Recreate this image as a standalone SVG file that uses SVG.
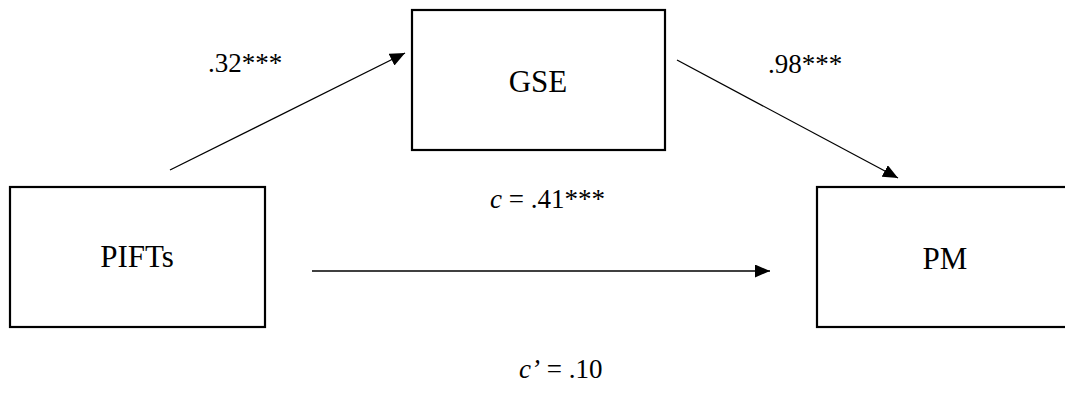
<svg xmlns="http://www.w3.org/2000/svg" width="1065" height="410" viewBox="0 0 1065 410">
<style>
.box{fill:#fff;stroke:#000;stroke-width:2.2}
.node{font-family:"Liberation Serif","Times New Roman",serif;font-size:31px;fill:#000;text-anchor:middle}
.lbl{font-family:"Liberation Serif","Times New Roman",serif;font-size:27px;fill:#000}
.edge{stroke:#000;stroke-width:1.3;fill:none;marker-end:url(#ah)}
</style>
<defs>
<marker id="ah" markerUnits="userSpaceOnUse" markerWidth="16" markerHeight="13" refX="15" refY="6.5" orient="auto">
<path d="M0,0 L15,6.5 L0,13 z" fill="#000"/>
</marker>
</defs>
<rect width="1065" height="410" fill="#fff"/>
<g id="connectors">
<line class="edge" x1="170" y1="170" x2="405" y2="53"/>
<line class="edge" x1="677" y1="60" x2="898" y2="178"/>
<line class="edge" x1="312" y1="271" x2="770" y2="271"/>
</g>
<g id="node-pifts">
<rect class="box" x="10" y="187" width="255" height="140"/>
<text class="node" x="137" y="267">PIFTs</text>
</g>
<g id="node-gse">
<rect class="box" x="412" y="10" width="253" height="140"/>
<text class="node" x="538" y="92">GSE</text>
</g>
<g id="node-pm">
<rect class="box" x="817" y="187" width="270" height="140"/>
<text class="node" x="945" y="269">PM</text>
</g>
<g id="labels">
<text class="lbl" x="208" y="72">.32***</text>
<text class="lbl" x="768" y="73">.98***</text>
<text class="lbl" x="490" y="208"><tspan font-style="italic">c</tspan> = .41***</text>
<text class="lbl" x="519" y="378"><tspan font-style="italic">c’</tspan> = .10</text>
</g>
</svg>
